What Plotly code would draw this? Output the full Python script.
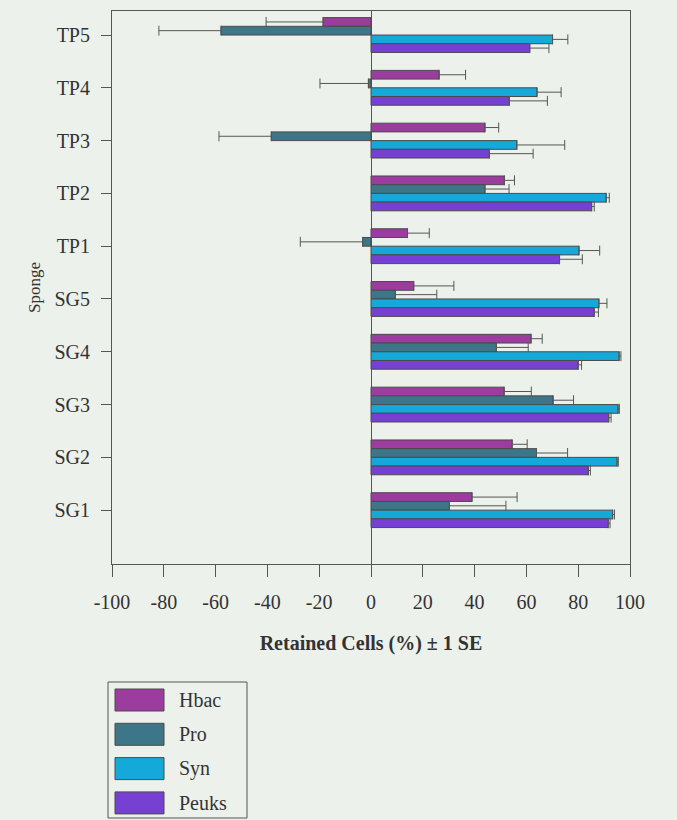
import plotly.graph_objects as go

# ---- data ----
categories = ["TP5", "TP4", "TP3", "TP2", "TP1", "SG5", "SG4", "SG3", "SG2", "SG1"]

hbac = [-18.5, 26.3, 44.0, 51.5, 14.1, 16.5, 61.8, 51.4, 54.5, 39.0]
hbac_se = [22.0, 10.2, 5.3, 3.9, 8.4, 15.5, 4.3, 10.5, 5.8, 17.4]

pro = [-57.9, -1.0, -38.5, 44.0, -3.2, 9.4, 48.4, 70.3, 63.9, 30.3]
pro_se = [24.0, 18.7, 20.2, 9.3, 24.1, 16.0, 12.3, 7.9, 12.0, 21.8]

syn = [70.1, 64.1, 56.3, 90.8, 80.3, 88.0, 95.8, 95.4, 95.0, 93.3]
syn_se = [5.9, 9.3, 18.5, 1.2, 8.0, 3.1, 0.7, 0.5, 0.5, 0.7]

peuks = [61.3, 53.4, 45.7, 85.2, 72.8, 86.2, 80.0, 91.8, 83.9, 91.6]
peuks_se = [7.4, 14.7, 16.9, 1.0, 8.8, 1.6, 1.3, 0.9, 0.8, 0.7]

series_names = ["Hbac", "Pro", "Syn", "Peuks"]
series_colors = ["#9C3C9E", "#3D7688", "#14A9D8", "#7641D2"]

x_tick_vals = [-100, -80, -60, -40, -20, 0, 20, 40, 60, 80, 100]
x_tick_text = ["-100", "-80", "-60", "-40", "-20", "0", "20", "40", "60", "80", "100"]

# ---- styling ----
BG = "#EDF1EB"
INK = "#555555"
TXT = "#333333"
FONT = "Liberation Serif"
W, H = 677, 820
ML, MR, MT, MB = 112, 47, 11, 256

values = [hbac, pro, syn, peuks]
ses = [hbac_se, pro_se, syn_se, peuks_se]

fig = go.Figure()
for name, color, vals, se in zip(series_names, series_colors, values, ses):
    plus = [s if v >= 0 else 0 for v, s in zip(vals, se)]
    minus = [s if v < 0 else 0 for v, s in zip(vals, se)]
    fig.add_trace(go.Bar(
        name=name, y=categories, x=vals, orientation="h",
        marker=dict(color=color, line=dict(color="#4a4a4a", width=1)),
        error_x=dict(type="data", symmetric=False, array=plus, arrayminus=minus,
                     color=INK, thickness=1, width=5),
        showlegend=False,
    ))

# custom legend (large swatches like the reference)
pw = W - ML - MR
ph = H - MT - MB


def px(xp):
    return (xp - ML) / pw


def py(yp):
    return (H - MB - yp) / ph


shapes = [dict(type="rect", xref="paper", yref="paper",
               x0=px(108), x1=px(247), y0=py(682), y1=py(818),
               line=dict(color=INK, width=1), fillcolor="rgba(0,0,0,0)")]
annotations = []
for i, (name, color) in enumerate(zip(series_names, series_colors)):
    top = 689 + i * 34.3
    shapes.append(dict(type="rect", xref="paper", yref="paper",
                       x0=px(115), x1=px(164), y0=py(top), y1=py(top + 22),
                       line=dict(color="#4a4a4a", width=1), fillcolor=color))
    annotations.append(dict(text=name, xref="paper", yref="paper",
                            x=px(177), y=py(top + 11), xanchor="left", yanchor="middle",
                            showarrow=False, font=dict(family=FONT, size=20, color=TXT)))

fig.update_layout(
    width=W, height=H,
    margin=dict(l=ML, r=MR, t=MT, b=MB),
    paper_bgcolor=BG, plot_bgcolor=BG,
    barmode="group", bargap=0.34, bargroupgap=0,
    showlegend=False,
    font=dict(family=FONT, color=TXT),
    shapes=shapes, annotations=annotations,
)
fig.update_xaxes(
    range=[-100, 100], tickvals=x_tick_vals, ticktext=x_tick_text,
    ticks="outside", ticklen=12, tickwidth=1, tickcolor=INK,
    showline=True, linecolor=INK, linewidth=1, mirror=True,
    showgrid=False, zeroline=True, zerolinecolor=INK, zerolinewidth=1,
    tickfont=dict(family=FONT, size=20, color=TXT), ticklabelstandoff=8,
    title=dict(text="<b>Retained Cells (%) ± 1 SE</b>",
               font=dict(family=FONT, size=20, color=TXT), standoff=23),
)
fig.update_yaxes(
    type="category", categoryarray=categories, categoryorder="array",
    range=[len(categories) - 1 + 1.02, -0.455],
    ticks="outside", ticklen=10, tickwidth=1, tickcolor=INK,
    showline=True, linecolor=INK, linewidth=1, mirror=True,
    showgrid=False,
    tickfont=dict(family=FONT, size=20, color=TXT), ticklabelstandoff=7,
    title=dict(text="Sponge", font=dict(family=FONT, size=17, color=TXT), standoff=9),
)

fig.write_html(
    "out.html",
    config={"displayModeBar": False},
    post_script="document.body.style.margin='0';document.body.style.overflow='hidden';",
)
